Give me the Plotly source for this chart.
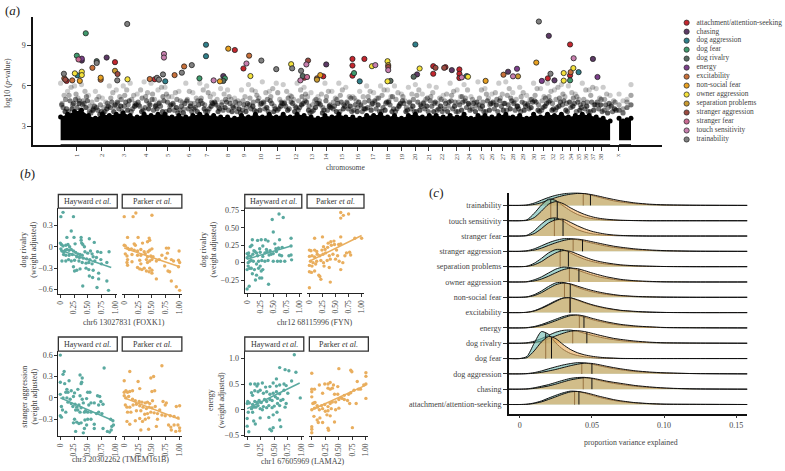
import numpy as np
import plotly.graph_objects as go

W, H = 785, 471
SERIF = "Liberation Serif"
INK = "#444444"

# ---------- panel a: genome scan ----------
chrom_labels = [str(i) for i in range(1, 39)] + ["x"]
chrom_ticks = [74, 99.3, 122, 144, 165.7, 187.3, 205.3, 226, 242.7, 259.3, 276.7, 294.7, 311, 325.3, 341.3, 357, 372,
               387.3, 401, 415, 428.3, 442, 456.7, 469, 481.7, 491.7, 502.7, 512.7, 523.3, 534, 543.7, 553.3, 562.7,
               571.3, 579.3, 586.7, 594, 602, 619.3]

bin_x = [58, 65, 72, 79, 86, 93, 100, 107, 114, 121,
         128, 135, 142, 149, 156, 163, 170, 177, 184, 191,
         198, 205, 212, 219, 226, 233, 240, 247, 254, 261,
         268, 275, 282, 289, 296, 303, 310, 317, 324, 331,
         338, 345, 352, 359, 366, 373, 380, 387, 394, 401,
         408, 415, 422, 429, 436, 443, 450, 457, 464, 471,
         478, 485, 492, 499, 506, 513, 520, 527, 534, 541,
         548, 555, 562, 569, 576, 583, 590, 597, 604, 611]
cloud1 = [6.2, 5.6, 6.0, 6.1, 5.3, 5.6, 5.1, 6.0, 5.7, 6.0,
          6.2, 5.4, 6.3, 6.2, 5.7, 5.9, 5.2, 5.6, 6.2, 5.5,
          6.2, 6.0, 5.4, 5.8, 5.7, 5.1, 5.7, 6.1, 5.6, 6.3,
          5.6, 6.2, 6.1, 5.3, 6.2, 5.9, 5.5, 5.2, 6.2, 5.6,
          6.2, 5.9, 5.2, 5.6, 6.0, 5.5, 6.0, 5.7, 6.0, 5.4,
          5.9, 6.1, 5.4, 6.0, 5.9, 5.3, 6.2, 5.7, 6.1, 5.2,
          6.3, 5.8, 5.4, 6.2, 6.3, 5.5, 5.9, 5.3, 6.2, 5.8,
          6.2, 5.7, 6.1, 6.0, 5.4, 6.2, 5.7, 5.8, 5.9, 5.3]
cloud2 = [5.3, 5.9, 5.1, 5.6, 4.8, 5.2, 4.8, 5.5, 5.2, 5.7,
          5.3, 5.7, 5.5, 5.0, 5.9, 5.2, 5.5, 4.8, 5.6, 5.1,
          5.7, 5.2, 5.0, 5.4, 5.0, 4.9, 5.2, 5.7, 5.1, 5.5,
          5.8, 5.0, 5.6, 5.0, 5.7, 5.2, 4.9, 5.4, 5.6, 5.1,
          5.7, 5.2, 4.9, 5.2, 5.6, 5.1, 5.7, 5.2, 5.5, 4.9,
          5.4, 5.7, 5.0, 5.5, 5.1, 5.4, 5.6, 5.2, 5.7, 4.8,
          5.7, 5.1, 5.5, 5.4, 5.8, 5.0, 5.5, 5.0, 5.8, 5.2,
          5.6, 5.9, 5.2, 5.5, 5.0, 5.7, 5.9, 5.1, 5.4, 4.9]
cloud3 = [4.7, 5.3, 5.4, 4.9, 4.5, 5.0, 4.4, 5.1, 4.7, 5.3,
          5.0, 4.6, 5.2, 5.4, 4.8, 5.4, 4.6, 4.9, 5.0, 4.7,
          5.1, 5.5, 4.7, 4.8, 5.2, 4.5, 4.9, 5.1, 5.3, 4.7,
          5.2, 5.5, 4.8, 5.2, 4.9, 5.4, 4.6, 4.9, 5.2, 4.8,
          5.3, 4.7, 5.1, 4.5, 5.2, 4.8, 5.3, 4.9, 5.0, 5.2,
          4.7, 5.3, 4.8, 5.2, 4.7, 4.9, 5.3, 4.8, 5.1, 5.0,
          5.1, 5.4, 4.7, 5.1, 5.3, 4.8, 5.2, 4.7, 5.3, 4.9,
          5.2, 5.0, 5.4, 4.8, 5.2, 5.0, 5.3, 4.6, 5.0, 4.6]
cloud4 = [5.0, 4.6, 4.9, 5.2, 4.3, 4.6, 4.7, 4.5, 5.0, 4.6,
          4.7, 5.1, 4.7, 4.6, 5.2, 4.5, 5.0, 4.3, 4.7, 4.9,
          4.6, 4.8, 4.4, 5.0, 4.5, 4.7, 4.4, 4.8, 4.6, 5.0,
          4.5, 4.8, 5.1, 4.5, 5.2, 4.5, 5.0, 4.4, 4.6, 5.0,
          4.6, 5.1, 4.4, 4.8, 4.6, 5.1, 4.7, 5.2, 4.6, 4.4,
          5.0, 4.6, 5.1, 4.7, 5.0, 4.5, 4.8, 5.2, 4.6, 4.5,
          4.8, 4.6, 5.0, 4.7, 5.1, 4.5, 4.7, 5.0, 4.6, 5.1,
          4.7, 5.1, 4.7, 5.1, 4.6, 4.8, 4.6, 5.0, 4.4, 4.8]
cloud5 = [4.4, 4.9, 4.4, 4.7, 4.0, 4.2, 4.1, 4.8, 4.3, 4.8,
          4.3, 4.5, 4.9, 4.2, 4.5, 4.8, 4.2, 4.5, 4.3, 4.4,
          4.7, 4.3, 4.6, 4.2, 4.7, 4.1, 4.6, 4.3, 4.9, 4.3,
          4.7, 4.3, 4.5, 4.7, 4.4, 4.8, 4.2, 4.6, 4.2, 4.5,
          4.8, 4.3, 4.6, 4.1, 4.9, 4.3, 4.4, 4.6, 4.3, 4.7,
          4.3, 4.8, 4.3, 4.5, 4.3, 4.7, 4.3, 4.6, 4.4, 4.7,
          4.3, 4.9, 4.3, 4.5, 4.6, 4.2, 4.8, 4.3, 4.8, 4.4,
          4.9, 4.4, 4.9, 4.4, 4.8, 4.3, 4.8, 4.3, 4.6, 4.1]
cloud6 = [4.1, 4.3, 4.7, 4.4, 4.2, 3.9, 4.3, 4.1, 4.5, 4.2,
          4.5, 4.1, 4.3, 4.5, 4.1, 4.2, 4.4, 4.0, 4.5, 4.1,
          4.3, 4.5, 4.1, 4.4, 4.1, 4.3, 4.1, 4.5, 4.2, 4.4,
          4.1, 4.5, 4.2, 4.1, 4.6, 4.2, 4.4, 4.0, 4.5, 4.1,
          4.3, 4.5, 4.1, 4.3, 4.2, 4.6, 4.2, 4.1, 4.5, 4.1,
          4.5, 4.2, 4.5, 4.1, 4.5, 4.1, 4.5, 4.2, 4.7, 4.1,
          4.5, 4.2, 4.6, 4.2, 4.3, 4.5, 4.2, 4.4, 4.2, 4.5,
          4.2, 4.5, 4.2, 4.5, 4.2, 4.5, 4.2, 4.6, 4.0, 4.3]
cloud7 = [4.6, 4.1, 5.0, 4.6, 4.1, 4.4, 4.0, 4.4, 4.8, 4.5,
          4.1, 4.8, 4.4, 5.0, 4.7, 4.1, 4.7, 4.2, 4.9, 4.3,
          4.9, 4.1, 4.8, 4.6, 4.2, 4.8, 4.2, 4.6, 4.1, 4.8,
          4.9, 4.2, 4.7, 4.8, 4.2, 4.9, 4.1, 4.7, 4.9, 4.3,
          4.1, 4.8, 4.2, 4.6, 4.4, 4.9, 4.1, 4.8, 4.1, 4.9,
          4.8, 4.1, 4.7, 4.9, 4.2, 4.3, 4.9, 4.1, 4.9, 4.3,
          4.6, 4.1, 4.8, 4.9, 4.2, 4.7, 4.1, 4.6, 4.9, 4.2,
          4.8, 4.2, 4.6, 4.8, 4.1, 4.7, 4.1, 4.8, 4.2, 4.5]
cloud8 = [4.3, 4.7, 4.2, 4.9, 4.5, 4.1, 4.5, 4.6, 4.1, 4.9,
          4.6, 4.2, 4.6, 4.3, 4.9, 4.6, 4.0, 4.7, 4.1, 4.6,
          4.1, 4.7, 4.3, 4.8, 4.4, 4.0, 4.7, 4.2, 4.7, 4.1,
          4.3, 4.7, 4.3, 4.4, 4.7, 4.0, 4.7, 4.2, 4.4, 4.7,
          4.5, 4.1, 4.8, 4.3, 4.7, 4.1, 4.8, 4.3, 4.7, 4.2,
          4.1, 4.5, 4.1, 4.8, 4.1, 4.8, 4.1, 4.8, 4.2, 4.8,
          4.1, 4.7, 4.1, 4.7, 4.9, 4.3, 4.5, 4.8, 4.1, 4.7,
          4.3, 4.8, 4.1, 4.7, 4.4, 4.1, 4.6, 4.1, 4.7, 4.2]
cloud_offsets = [0, 3.5, 1.5, 5, 2.5, 4.5, 1, 6]
solid_top = [3.7, 3.9, 4.1, 4.2, 3.8, 3.6, 3.9, 3.8, 3.9, 4.0,
             3.8, 3.7, 3.9, 3.8, 3.9, 3.9, 3.7, 3.8, 3.7, 3.8,
             3.9, 3.8, 3.8, 3.7, 3.7, 3.6, 3.8, 3.7, 3.9, 3.7,
             3.9, 3.7, 3.9, 3.7, 3.9, 3.8, 3.7, 3.6, 3.8, 3.7,
             3.9, 3.7, 3.7, 3.6, 3.8, 3.8, 3.9, 3.7, 3.8, 3.6,
             3.8, 3.9, 3.7, 3.8, 3.8, 3.7, 3.8, 3.7, 3.9, 3.6,
             3.8, 3.8, 3.7, 3.8, 3.9, 3.7, 3.8, 3.6, 3.9, 3.7,
             3.9, 3.8, 3.9, 3.7, 3.8, 3.9, 3.8, 3.7, 3.6, 3.4]
xchr_x = [620, 624, 628, 632]
xchr_cloud1 = [5.4, 4.9, 5.0, 6.1]
xchr_cloud2 = [4.6, 4.3, 4.8, 5.3]
xchr_cloud3 = [4.2, 4.0, 4.4, 4.6]
xchr_solid = [3.6, 3.4, 3.5, 3.6]

trait_names = ["attachment/attention-seeking", "chasing", "dog aggression", "dog fear", "dog rivalry", "energy",
               "excitability", "non-social fear", "owner aggression", "separation problems", "stranger aggression",
               "stranger fear", "touch sensitivity", "trainability"]
trait_colors = ["#c4262e", "#5d3a66", "#2f7f8a", "#3f9a6c", "#566a60", "#7c3f8a", "#c8703a", "#e8a020", "#f4e23c",
                "#c99a30", "#9c4a40", "#c96a92", "#c77fae", "#808080"]

sig_attachment = [(64, 6.37), (112.7, 7.76), (152.7, 6.49), (233.3, 8.66), (242, 7.29), (303.3, 6.61), (322.3, 6.71),
                  (351.7, 8.0), (351.7, 7.51), (351.7, 6.76), (363.7, 8.0), (433, 7.46), (433, 6.9), (445.3, 7.39),
                  (459.3, 7.22), (459.3, 6.9), (459.3, 6.59), (548.3, 6.56), (570.7, 9.07), (570.7, 6.78)]
sig_chasing = [(79.3, 7.88), (104.3, 8.1), (221.7, 6.73), (325.3, 7.59), (549.3, 9.71), (593.7, 8.0), (555, 6.41),
               (416.7, 6.85), (451.7, 7.17), (508.3, 7.05)]
sig_dog_aggression = [(204.3, 9.05), (204.3, 8.2), (75, 6.78), (163.3, 6.34), (359, 6.34), (415, 9.07), (579.3, 7.02),
                      (466.7, 6.73)]
sig_dog_fear = [(83.3, 9.9), (74.3, 8.24), (197.7, 6.56), (223.3, 6.56), (353.3, 6.95), (570.7, 6.41)]
sig_dog_rivalry = [(94.3, 7.83), (390, 6.37), (221.7, 6.37), (301.7, 6.73), (413.3, 6.68)]
sig_energy = [(517.3, 7.27), (598.3, 6.66), (542.3, 6.37), (79.3, 8.02)]
sig_excitability = [(61.7, 6.56), (69.7, 6.41), (98.3, 6.46), (147.7, 6.51), (172.7, 6.8), (182.3, 7.44), (247.7, 8.24),
                    (316, 6.56), (90, 7.34), (503.7, 6.83), (571.3, 7.02)]
sig_non_social = [(226.7, 8.76), (218.3, 6.34), (77.3, 6.37), (536.7, 7.73), (485.7, 6.37), (98.3, 6.61), (319.3, 6.8)]
sig_owner = [(72.3, 6.93), (79.3, 7.05), (79.3, 6.8), (125.3, 6.49), (249, 6.73), (290, 7.61), (371.3, 7.46),
             (387, 7.83), (387, 6.34), (419.3, 7.29), (468, 6.68), (564.3, 6.95), (564.3, 6.39), (574, 7.32)]
sig_separation = [(112.7, 7.12), (387.7, 7.54), (518.3, 6.71), (316, 6.46)]
sig_stranger_aggression = [(62.7, 6.46), (115.3, 6.88), (307, 7.88), (435.3, 7.34), (444, 7.34), (387.7, 7.4)]
sig_stranger_fear = [(76, 7.96), (306, 6.66)]
sig_touch = [(162, 8.37), (162, 8.1), (212, 6.41), (245, 7.66), (299.3, 6.41), (305.3, 7.59), (374.7, 7.54),
             (387.7, 7.17), (574.3, 8.05), (513.3, 6.71), (461.7, 6.63)]
sig_trainability = [(125, 10.59), (61.3, 6.9), (94.3, 7.7), (115, 6.41), (155, 6.6), (157, 6.46), (161, 6.85),
                    (180, 6.98), (190, 7.54), (260, 7.88), (275, 7.24), (291, 7.3), (300, 7.12), (539.3, 10.77),
                    (551, 6.9)]
sig_all = [sig_attachment, sig_chasing, sig_dog_aggression, sig_dog_fear, sig_dog_rivalry, sig_energy, sig_excitability,
           sig_non_social, sig_owner, sig_separation, sig_stranger_aggression, sig_stranger_fear, sig_touch,
           sig_trainability]

# ---------- panel b: genotype scatters ----------
foxk1_hayward = [(.05,.48),(.01,.42),(.24,.42),(.2,.22),(.12,.13),(.25,.13),(.38,.13),(.38,.09),(.39,.05),(.53,.11),(.62,.06),(0,.05),(.02,.03),(.05,.01),(.1,.02),(.14,.03),(.17,0),(.27,.04),(.41,.03),(.44,0),(.01,-.03),(.03,-.06),(.06,-.07),(.09,-.05),(.12,-.04),(.16,-.05),(.2,-.04),(.24,-.06),(.28,-.08),(.32,-.1),(.36,-.11),(.4,-.12),(.45,-.07),(.5,-.09),(.55,-.06),(.58,-.1),(.68,-.07),(.74,-.08),(.89,-.07),(.06,-.11),(.1,-.12),(.16,-.12),(.22,-.11),(.3,-.14),(.35,-.15),(.42,-.16),(.48,-.17),(.54,-.18),(.6,-.14),(.66,-.15),(.74,-.18),(.03,-.2),(.1,-.2),(.15,-.18),(.2,-.2),(.26,-.19),(.34,-.2),(.4,-.22),(.47,-.23),(.52,-.22),(.58,-.24),(.63,-.2),(.75,-.24),(.85,-.22),(.24,-.28),(.3,-.33),(.26,-.34),(.36,-.31),(.47,-.3),(.52,-.32),(.6,-.33),(.7,-.37),(.53,-.41),(.59,-.43),(.7,-.45),(.85,-.48),(.41,-.55),(.67,-.57),(.88,-.61)]
foxk1_parker = [(0,.42),(.16,.42),(.21,.47),(.5,.44),(.06,.13),(.25,.13),(.45,.12),(0,.02),(.02,.01),(.18,.04),(.2,.02),(.33,.05),(.42,.07),(.46,.09),(.06,-.02),(.09,-.04),(.13,-.03),(.18,-.05),(.24,-.06),(.3,-.04),(.36,-.07),(.43,-.07),(.46,-.05),(.5,-.03),(.76,-.02),(.8,-.02),(.99,-.06),(.02,-.1),(.05,-.13),(.06,-.18),(.14,-.11),(.24,-.12),(.3,-.12),(.38,-.1),(.42,-.14),(.48,-.13),(.52,-.14),(.78,-.09),(.68,-.12),(.05,-.22),(.06,-.26),(.14,-.21),(.28,-.19),(.3,-.24),(.4,-.18),(.42,-.22),(.46,-.2),(.5,-.18),(.58,-.2),(.63,-.18),(.75,-.16),(.85,-.18),(.89,-.2),(.98,-.19),(1,-.22),(.24,-.29),(.28,-.31),(.32,-.32),(.36,-.3),(.4,-.34),(.46,-.3),(.5,-.33),(.5,-.37),(.45,-.35),(.73,-.27),(.79,-.34),(.82,-.35),(.98,-.28),(.58,-.45),(.85,-.48),(.94,-.56),(1,-.61)]
fyn_hayward = [(0,-.38),(.04,-.34),(.16,-.25),(.24,-.22),(.28,-.22),(.41,-.31),(.05,-.08),(0,-.1),(.02,-.05),(.08,-.08),(.1,-.16),(.14,-.1),(.18,-.18),(.22,-.08),(.27,-.12),(.3,-.1),(.25,-.05),(.02,0),(.05,.02),(.08,.03),(.12,.02),(.18,-.02),(.22,.02),(.28,.03),(.34,.02),(.4,.03),(.5,.02),(.58,.02),(.64,.02),(.72,.02),(.85,.04),(0,.07),(.03,.1),(.07,.09),(.11,.12),(.15,.16),(.2,.1),(.25,.15),(.3,.09),(.34,.14),(.38,.16),(.42,.11),(.46,.12),(.5,.13),(.56,.16),(.62,.11),(.66,.1),(.8,.1),(.84,.11),(0,.13),(.03,.14),(.06,.23),(.09,.25),(.13,.17),(.18,.14),(.24,.2),(.3,.24),(.37,.19),(.44,.17),(.55,.2),(.6,.21),(.67,.22),(.84,.24),(.1,.33),(.2,.32),(.27,.33),(.35,.33),(.4,.31),(.53,.27),(.62,.33),(.84,.35),(.5,.44),(.48,.62),(.61,.7),(.69,.65)]
fyn_parker = [(0,-.36),(.22,-.24),(.2,-.2),(.4,-.28),(0,-.13),(.04,-.14),(.1,-.12),(.18,-.18),(0,-.04),(.05,-.05),(.12,-.02),(.28,-.05),(.38,-.07),(.6,-.1),(.02,.02),(.07,0),(.14,.02),(.22,.03),(.27,0),(.34,.03),(.4,.05),(.5,.05),(.57,.02),(.64,0),(0,.09),(.05,.1),(.1,.08),(.15,.12),(.2,.1),(.26,.12),(.31,.14),(.38,.1),(.45,.12),(.54,.1),(.68,.1),(.71,.14),(.77,.15),(.79,.11),(0,.18),(.03,.17),(.1,.18),(.14,.16),(.24,.18),(.27,.23),(.3,.19),(.35,.22),(.42,.25),(.48,.26),(.52,.18),(.56,.26),(.6,.27),(.36,.28),(.41,.3),(.47,.31),(.1,.35),(.25,.37),(.6,.37),(.87,.35),(1,.35),(.6,.72),(.65,.68),(.75,.7),(.6,.64)]
tmem_hayward = [(0,.6),(.07,.37),(.05,.33),(0,.22),(.08,.2),(.16,.24),(.36,.32),(.4,.28),(.39,.22),(.38,.2),(.12,.12),(.14,.08),(.1,.08),(.2,.1),(.26,.07),(.32,.12),(.5,.08),(.54,.08),(.8,.42),(0,.05),(.05,0),(.12,0),(.18,-.02),(.24,.02),(.36,.03),(.4,-.02),(.48,-.01),(.68,.03),(.72,.02),(.02,-.12),(.04,-.17),(0,-.25),(.02,-.27),(.1,-.2),(.14,-.06),(.2,-.08),(.23,-.12),(.27,-.09),(.3,-.13),(.34,-.1),(.38,-.14),(.42,-.07),(.46,-.18),(.52,-.1),(.56,-.07),(.62,-.07),(.7,-.1),(.74,-.05),(.78,-.09),(.28,-.17),(.32,-.17),(.36,-.2),(.44,-.2),(.5,-.2),(.56,-.2),(.66,-.22),(.7,-.2),(.76,-.22),(.26,-.3),(.24,-.35),(.3,-.34),(.34,-.36),(.38,-.35),(.45,-.31),(.5,-.3),(.56,-.3),(.48,-.38),(.44,-.43),(.62,-.37),(.78,-.43),(.28,-.47),(.42,-.49),(.62,-.43),(.86,-.47),(.9,-.48),(.93,-.45),(.94,-.4),(.97,-.38),(.92,-.3),(.96,-.32)]
tmem_parker = [(0,.24),(.1,.37),(.03,.1),(0,.08),(.06,.08),(.1,.09),(.15,.1),(.25,.23),(.28,.13),(.48,.28),(.53,.3),(.68,.45),(.5,.09),(.55,.1),(0,.03),(.03,0),(.08,.02),(.15,-.02),(.2,-.04),(.27,-.05),(.32,-.06),(.38,-.07),(.42,-.06),(.46,-.08),(.51,-.04),(.7,-.05),(.76,-.07),(.02,-.1),(.05,-.13),(.1,-.13),(.16,-.1),(.22,-.09),(.28,-.11),(.34,-.13),(.4,-.15),(.45,-.13),(.5,-.14),(.56,-.12),(.64,-.17),(.74,-.1),(.94,-.12),(1,-.11),(.06,-.2),(.12,-.2),(.22,-.18),(.3,-.18),(.37,-.23),(.42,-.22),(.48,-.2),(.54,-.21),(.6,-.22),(.68,-.24),(.74,-.25),(.83,-.25),(.9,-.26),(.97,-.28),(.05,-.33),(.1,-.37),(.2,-.32),(.28,-.29),(.33,-.33),(.38,-.3),(.44,-.28),(.6,-.3),(.8,-.38),(.84,-.41),(.9,-.38),(.97,-.38),(1,-.42),(1,-.46),(.85,-.45),(.93,-.47),(.3,-.45),(.44,-.44),(.58,-.4)]
lama_hayward = [(0,-.32),(.03,-.43),(0,-.17),(.12,-.22),(.15,-.28),(.24,-.16),(.42,-.38),(.45,-.41),(.48,-.35),(.62,-.33),(.6,-.2),(.48,-.1),(.4,-.15),(.55,-.05),(.1,-.05),(.02,-.05),(0,.12),(.01,.16),(.04,.13),(.08,.02),(.12,.05),(.16,.05),(.2,.08),(.24,.02),(.28,0),(.3,.06),(.36,.04),(.4,.08),(.46,.04),(.5,.07),(.56,.12),(.6,.08),(.7,.05),(.1,.1),(.14,.16),(.18,.14),(.22,.18),(.26,.14),(.32,.2),(.36,.16),(.42,.2),(.46,.18),(.52,.25),(.56,.22),(.62,.18),(.66,.2),(.72,.12),(.1,.28),(.08,.33),(.06,.5),(.14,.37),(.2,.35),(.24,.38),(.3,.32),(.36,.35),(.42,.3),(.48,.32),(.54,.35),(.6,.31),(.68,.38),(.75,.32),(.18,.46),(.2,.5),(.14,.5),(.28,.52),(.34,.44),(.42,.45),(.48,.52),(.54,.46),(.6,.48),(.68,.5),(.72,.47),(.82,.56),(.98,.23),(.54,.6),(.6,.82),(.7,.78),(.77,.76),(.9,.73),(.87,1.07)]
lama_parker = [(0,-.33),(0,-.38),(0,-.45),(.3,-.36),(.31,-.4),(.75,-.35),(.42,-.24),(.1,-.2),(.15,-.16),(.2,-.25),(.12,-.25),(.04,-.13),(.28,-.1),(.34,-.12),(0,0),(.05,.03),(.1,.05),(.14,0),(.2,.02),(.25,-.03),(.3,-.02),(.36,.02),(.44,0),(.5,.03),(.06,.14),(.04,.13),(.02,.12),(.1,.08),(.18,.08),(.24,.1),(.3,.06),(.34,.12),(.38,.15),(.44,.15),(.5,.2),(.56,.22),(.6,.2),(.66,.18),(.7,.12),(.82,.12),(0,.25),(0,.35),(0,.4),(.05,.4),(.14,.48),(.2,.32),(.24,.5),(.3,.42),(.34,.4),(.38,.42),(.42,.3),(.48,.3),(.54,.24),(.6,.28),(.68,.3),(.72,.33),(.78,.38),(.86,.4),(.9,.4),(1,.22),(.3,.5),(.34,.53),(.4,.48),(.48,.45),(.5,.8),(.72,.77),(.74,.74),(.84,.55),(.96,.48),(1,.5),(1,.65),(1,.72),(0,.71)]

dose_ticks = [0, .25, .5, .75, 1]
dose_labels = ["0", "0.25", "0.50", "0.75", "1.00"]

# ---------- panel c: ridgeline ----------
ridge_x = [0, .005, .01, .015, .02, .025, .03, .035, .04, .045, .05, .055, .06, .065, .07, .08, .09, .10, .12, .158]
rh_attachment = [0,.02,.1,.23,.42,.6,.76,.87,.85,.74,.6,.47,.36,.27,.19,.1,.05,.02,.01,0]
rp_attachment = [0,.01,.07,.17,.33,.5,.68,.82,.85,.78,.67,.54,.43,.32,.24,.12,.06,.02,.01,0]
rh_chasing = [0,.02,.09,.19,.3,.44,.58,.7,.76,.77,.69,.57,.47,.38,.31,.19,.11,.06,.02,0]
rp_chasing = [0,.01,.05,.12,.21,.33,.47,.6,.69,.75,.72,.63,.53,.45,.38,.24,.15,.08,.02,0]
rh_dog_agg = [0,.02,.08,.19,.33,.46,.58,.67,.73,.71,.63,.53,.43,.34,.27,.15,.09,.05,.02,0]
rp_dog_agg = [0,.01,.04,.1,.19,.29,.41,.53,.63,.7,.68,.6,.5,.41,.33,.2,.12,.07,.02,0]
rh_dog_fear = [0,.14,1.0,1.76,1.58,1.02,.6,.34,.2,.11,.06,.03,.02,.01,0,0,0,0,0,0]
rp_dog_fear = [0,.06,.5,1.08,1.44,1.3,.92,.6,.38,.24,.15,.09,.05,.03,.01,0,0,0,0,0]
rh_rivalry = [0,.03,.13,.3,.52,.72,.84,.86,.78,.65,.52,.41,.31,.24,.17,.08,.04,.02,.01,0]
rp_rivalry = [0,.01,.05,.14,.3,.48,.65,.78,.82,.76,.65,.53,.42,.32,.25,.14,.07,.03,.01,0]
rh_energy = [0,.02,.09,.22,.39,.57,.74,.85,.81,.69,.55,.43,.33,.24,.18,.09,.05,.02,.01,0]
rp_energy = [0,.01,.06,.16,.3,.47,.65,.8,.85,.77,.63,.51,.4,.31,.23,.13,.07,.03,.01,0]
rh_excit = [0,.02,.12,.31,.54,.78,.95,.96,.8,.63,.48,.36,.26,.19,.13,.06,.03,.01,0,0]
rp_excit = [0,.02,.1,.27,.49,.73,.94,.97,.84,.67,.52,.4,.3,.22,.15,.08,.03,.01,0,0]
rh_nonsocial = [0,.03,.17,.41,.71,.94,.97,.84,.65,.49,.36,.26,.19,.13,.09,.04,.02,.01,0,0]
rp_nonsocial = [0,.02,.11,.3,.57,.82,.93,.88,.73,.58,.45,.34,.25,.18,.12,.06,.03,.01,0,0]
rh_owner = [0,.02,.14,.33,.59,.84,.97,.93,.78,.61,.46,.33,.24,.17,.11,.05,.02,.01,0,0]
rp_owner = [0,.01,.07,.19,.38,.6,.8,.9,.87,.74,.59,.46,.34,.25,.17,.08,.04,.01,0,0]
rh_separation = [0,.03,.22,.54,.9,1.12,1.1,.9,.67,.48,.34,.24,.17,.12,.08,.04,.02,.01,0,0]
rp_separation = [0,.02,.12,.33,.64,.9,1.05,1.0,.82,.63,.46,.34,.25,.18,.12,.06,.03,.01,0,0]
rh_str_agg = [0,.04,.16,.36,.56,.72,.82,.83,.76,.65,.54,.44,.34,.26,.2,.11,.06,.03,.01,0]
rp_str_agg = [0,.02,.08,.21,.39,.56,.7,.79,.8,.73,.63,.53,.43,.34,.27,.16,.09,.05,.01,0]
rh_str_fear = [0,.05,.34,.78,1.12,1.18,.98,.67,.42,.26,.15,.09,.05,.03,.02,.01,0,0,0,0]
rp_str_fear = [0,.02,.16,.48,.86,1.06,1.1,.9,.67,.47,.31,.2,.12,.07,.04,.01,0,0,0,0]
rh_touch = [0,.06,.48,1.02,1.41,1.32,.98,.66,.41,.24,.14,.08,.05,.03,.02,.01,0,0,0,0]
rp_touch = [0,.02,.2,.62,1.08,1.25,1.12,.85,.61,.41,.26,.16,.1,.06,.03,.01,0,0,0,0]
rh_trainability = [0,.03,.15,.34,.52,.66,.75,.81,.82,.76,.65,.53,.41,.3,.22,.11,.05,.02,.01,0]
rp_trainability = [0,.01,.06,.18,.35,.51,.64,.73,.78,.77,.7,.6,.49,.39,.3,.16,.08,.04,.01,0]
ridge_h = [rh_attachment, rh_chasing, rh_dog_agg, rh_dog_fear, rh_rivalry, rh_energy, rh_excit, rh_nonsocial, rh_owner,
           rh_separation, rh_str_agg, rh_str_fear, rh_touch, rh_trainability]
ridge_p = [rp_attachment, rp_chasing, rp_dog_agg, rp_dog_fear, rp_rivalry, rp_energy, rp_excit, rp_nonsocial, rp_owner,
           rp_separation, rp_str_agg, rp_str_fear, rp_touch, rp_trainability]
ridge_names = ["attachment/attention-seeking", "chasing", "dog aggression", "dog fear", "dog rivalry", "energy",
               "excitability", "non-social fear", "owner aggression", "separation problems", "stranger aggression",
               "stranger fear", "touch sensitivity", "trainability"]
median_h = [.038, .044, .043, .018, .0367, .0413, .0345, .031, .0344, .028, .037, .024, .0215, .044]
median_p = [.041, .05, .05, .022, .0465, .0445, .035, .035, .041, .0337, .0435, .03, .026, .049]

# ---------- build ----------
fig = go.Figure()
layout = {}
annots = []
shapes = []


def px_dom_x(a, b):
    return [a / W, b / W]


def px_dom_y(top, bottom):
    return [1 - bottom / H, 1 - top / H]


def add_axes(n, xdom, ydom, xaxis, yaxis):
    layout[f"xaxis{n}"] = dict(domain=xdom, anchor=f"y{n}", **xaxis)
    layout[f"yaxis{n}"] = dict(domain=ydom, anchor=f"x{n}", **yaxis)


def note(x, y, text, size=8.5, angle=0, xanchor="center", color=INK):
    annots.append(dict(x=x / W, y=1 - y / H, xref="paper", yref="paper", text=text, showarrow=False, textangle=angle,
                       xanchor=xanchor, yanchor="middle", align="center",
                       font=dict(family=SERIF, size=size, color=color)))


# panel a
add_axes(1, px_dom_x(30.5, 663), px_dom_y(15, 145),
         dict(range=[30.5, 663], showgrid=False, zeroline=False, showline=True, linecolor="#111", linewidth=2,
              ticks="outside", ticklen=4, tickcolor="#333", tickvals=chrom_ticks, ticktext=chrom_labels, tickangle=-90,
              tickfont=dict(family=SERIF, size=6.5, color=INK)),
         dict(range=[1.61, 11.12], showgrid=False, zeroline=False, showline=True, linecolor="#111", linewidth=2,
              ticks="outside", ticklen=4, tickcolor="#333", tickvals=[3, 6, 9], ticktext=["3", "6", "9"],
              tickfont=dict(family=SERIF, size=8, color=INK)))
cloud_layers = [(cloud1, .2), (cloud2, .27), (cloud3, .33), (cloud4, .42), (cloud5, .52), (cloud6, .65), (cloud7, .5),
                (cloud8, .55)]
for (vals, alpha), off in zip(cloud_layers, cloud_offsets):
    fig.add_trace(go.Scatter(x=[v + off for v in bin_x], y=vals, mode="markers", xaxis="x", yaxis="y", showlegend=False,
                             hoverinfo="skip", marker=dict(color=f"rgba(0,0,0,{alpha})", size=5.2)))
for vals, alpha in [(xchr_cloud1, .2), (xchr_cloud2, .35), (xchr_cloud3, .55)]:
    fig.add_trace(go.Scatter(x=xchr_x, y=vals, mode="markers", xaxis="x", yaxis="y", showlegend=False,
                             hoverinfo="skip", marker=dict(color=f"rgba(0,0,0,{alpha})", size=5.2)))
for xs, ys in [(bin_x, solid_top), (xchr_x, xchr_solid)]:
    fig.add_trace(go.Scatter(x=xs, y=ys, mode="lines+markers", line=dict(width=0), xaxis="x", yaxis="y",
                             showlegend=False, fill="tozeroy", fillcolor="#000", marker=dict(color="#000", size=5),
                             hoverinfo="skip"))
for name, color, pts in zip(trait_names, trait_colors, sig_all):
    fig.add_trace(go.Scatter(x=[p[0] for p in pts], y=[p[1] for p in pts], mode="markers", xaxis="x", yaxis="y",
                             showlegend=False, name=name,
                             marker=dict(color=color, size=5.2, line=dict(color="#222", width=0.8))))
# white band keeps the scan's floor above the axis line
shapes.append(dict(type="rect", xref="x", yref="y", x0=31.5, x1=662, y0=1.68, y1=1.97, fillcolor="white",
                   line=dict(width=0), layer="above"))
note(5, 82, "log10 (<i>p</i>-value)", size=8, angle=-90)
note(345, 168, "chromosome", size=7.5)
note(10, 9, "(<i>a</i>)", size=13, color="#222")

# legend of panel a, as its own small axes
add_axes(2, px_dom_x(683, 785), px_dom_y(16.4, 143.8),
         dict(range=[-5, 97], visible=False),
         dict(type="category", categoryorder="array", categoryarray=trait_names[::-1], range=[-0.5, 13.5], visible=False))
fig.add_trace(go.Scatter(x=[0] * len(trait_names), y=trait_names, mode="markers", xaxis="x2", yaxis="y2",
                         showlegend=False, marker=dict(color=trait_colors, size=5.2, line=dict(color="#333", width=0.8))))
fig.add_trace(go.Scatter(x=[10] * len(trait_names), y=trait_names, text=trait_names, mode="text",
                         textposition="middle right", xaxis="x2", yaxis="y2", showlegend=False, cliponaxis=False,
                         textfont=dict(family=SERIF, size=7.4, color=INK)))

TEAL = "#5aa9a0"
ORANGE = "#e9ae5e"
facet_specs = [
    dict(left=(55.7, 115), right=(120, 180), top=208.7, bottom=295.7, strip=195, yr=[-.66, .54],
         yt=[.3, 0, -.3, -.6], yl=["0.3", "0", "−0.3", "−0.6"], xr=[-.036, 1.04],
         h=foxk1_hayward, p=foxk1_parker, lh=[(0, -.05), (.93, -.29)], lp=[(0, -.02), (1, -.28)],
         ytitle="dog rivalry<br>(weight adjusted)", yx=26, yy=251, xtitle="chr6 13027831 (FOXK1)", xx=122, xy=325),
    dict(left=(243.3, 300.7), right=(306, 363.3), top=208.7, bottom=295, strip=195, yr=[-.44, .785],
         yt=[.75, .5, .25, 0, -.25], yl=["0.75", "0.50", "0.25", "0", "−0.25"], xr=[-.045, 1.045],
         h=fyn_hayward, p=fyn_parker, lh=[(0, .05), (.84, .24)], lp=[(0, .02), (1, .39)],
         ytitle="dog rivalry<br>(weight adjusted)", yx=207, yy=251, xtitle="chr12 68115996 (FYN)", xx=314, xy=325),
    dict(left=(55.7, 115), right=(120, 180), top=353.7, bottom=440, strip=339.3, yr=[-.54, .655],
         yt=[.6, .3, 0, -.3], yl=["0.6", "0.3", "0", "−0.3"], xr=[-.036, 1.04],
         h=tmem_hayward, p=tmem_parker, lh=[(0, 0), (.97, -.32)], lp=[(0, 0), (1, -.3)],
         ytitle="stranger aggression<br>(weight adjusted)", yx=27, yy=400, xtitle="chr3 20302262 (TMEM161B)", xx=118, xy=463),
    dict(left=(243.3, 302.7), right=(308.3, 367.7), top=353.7, bottom=440, strip=339.3, yr=[-.52, 1.14],
         yt=[1, .5, 0, -.5], yl=["1.0", "0.5", "0", "−0.5"], xr=[-.045, 1.045],
         h=lama_hayward, p=lama_parker, lh=[(0, .02), (.97, .52)], lp=[(0, 0), (1, .48)],
         ytitle="energy<br>(weight adjusted)", yx=214.5, yy=403, xtitle="chr1 67605969 (LAMA2)", xx=301, xy=465),
]
ax_n = 3
for spec in facet_specs:
    for side, color, pts, line, label in [("left", TEAL, spec["h"], spec["lh"], "Hayward"),
                                          ("right", ORANGE, spec["p"], spec["lp"], "Parker")]:
        a, b = spec[side]
        is_left = side == "left"
        add_axes(ax_n, px_dom_x(a, b), px_dom_y(spec["top"], spec["bottom"]),
                 dict(range=spec["xr"], showgrid=False, zeroline=False, showline=True, linecolor="#222", linewidth=1.2,
                      ticks="outside", ticklen=3, tickcolor="#333", tickvals=dose_ticks, ticktext=dose_labels,
                      tickangle=-90, tickfont=dict(family=SERIF, size=7.5, color=INK)),
                 dict(range=spec["yr"], showgrid=False, zeroline=False, showline=is_left, linecolor="#222",
                      linewidth=1.2, ticks="outside" if is_left else "", ticklen=3, tickcolor="#333",
                      tickvals=spec["yt"] if is_left else [], ticktext=spec["yl"] if is_left else [],
                      showticklabels=is_left, tickfont=dict(family=SERIF, size=8, color=INK)))
        sx = f"x{ax_n}"
        sy = f"y{ax_n}"
        fig.add_trace(go.Scatter(x=[p[0] for p in pts], y=[p[1] for p in pts], mode="markers", xaxis=sx, yaxis=sy,
                                 showlegend=False, marker=dict(color=color, size=3.4), cliponaxis=False, name=label))
        fig.add_trace(go.Scatter(x=[p[0] for p in line], y=[p[1] for p in line], mode="lines", xaxis=sx, yaxis=sy,
                                 showlegend=False, line=dict(color=color, width=1.5), name=label))
        shapes.append(dict(type="rect", xref="paper", yref="paper", x0=a / W, x1=b / W, y0=1 - spec["top"] / H,
                           y1=1 - spec["strip"] / H, fillcolor="white", line=dict(color="#333", width=1.3)))
        note((a + b) / 2, (spec["top"] + spec["strip"]) / 2, f"{label} <i>et al.</i>", size=8, color="#333")
        ax_n += 1
    note(spec["yx"], spec["yy"], spec["ytitle"], size=8, angle=-90)
    note(spec["xx"], spec["xy"], spec["xtitle"], size=8)
note(25, 174, "(<i>b</i>)", size=13, color="#222")

# panel c
cn = ax_n
add_axes(cn, px_dom_x(509, 749), px_dom_y(193, 417),
         dict(range=[-.0076, .1576], showgrid=False, zeroline=False, showline=True, linecolor="#111", linewidth=1.5,
              ticks="outside", ticklen=3, tickcolor="#333", tickvals=[0, .05, .10, .15],
              ticktext=["0", "0.05", "0.10", "0.15"], tickfont=dict(family=SERIF, size=8, color=INK)),
         dict(range=[.4, 14.84], showgrid=False, zeroline=False, showline=True, linecolor="#111", linewidth=1.5,
              ticks="outside", ticklen=4, tickcolor="#333", tickvals=list(range(1, 15)), ticktext=ridge_names,
              tickfont=dict(family=SERIF, size=8, color=INK)))
sx, sy = f"x{cn}", f"y{cn}"
xs_line = [-.0076] + ridge_x
SPL = dict(shape="spline", smoothing=0.7)
for i in range(13, -1, -1):
    row = i + 1
    # Hayward goes first: its curve and median then show through the Parker fill as tan
    for vals, fillc, med in [(ridge_h[i], "rgba(105,185,175,0.6)", median_h[i]),
                             (ridge_p[i], "rgba(235,175,95,0.62)", median_p[i])]:
        fig.add_trace(go.Scatter(x=xs_line, y=[row] * len(xs_line), mode="lines", line=dict(width=0), xaxis=sx,
                                 yaxis=sy, showlegend=False, hoverinfo="skip"))
        fig.add_trace(go.Scatter(x=xs_line, y=[row + v for v in [0] + vals], mode="lines", xaxis=sx, yaxis=sy,
                                 showlegend=False, fill="tonexty", fillcolor=fillc,
                                 line=dict(color="#111", width=1.0, **SPL)))
        fig.add_trace(go.Scatter(x=[med, med], y=[row, row + float(np.interp(med, ridge_x, vals))], mode="lines",
                                 xaxis=sx, yaxis=sy, showlegend=False, line=dict(color="#111", width=1.0),
                                 hoverinfo="skip"))
note(632, 446, "proportion variance explained", size=7.8)
note(436, 193, "(<i>c</i>)", size=13, color="#222")

fig.update_layout(width=W, height=H, margin=dict(l=0, r=0, t=0, b=0), paper_bgcolor="white", plot_bgcolor="rgba(0,0,0,0)",
                  autosize=False, showlegend=False, annotations=annots, shapes=shapes, font=dict(family=SERIF),
                  **layout)
fig.write_html("out.html", config={"displayModeBar": False}, post_script="document.body.style.margin='0';")
